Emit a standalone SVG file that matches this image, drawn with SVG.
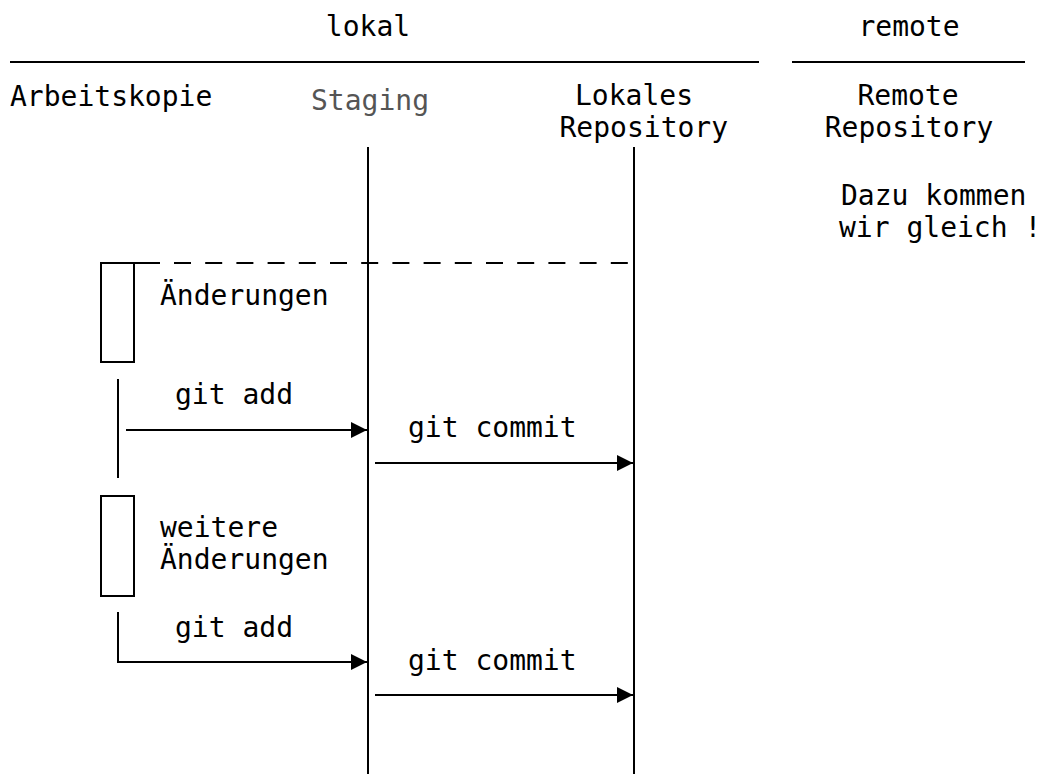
<svg xmlns="http://www.w3.org/2000/svg" width="1041" height="774" viewBox="0 0 1041 774">
  <style>
    text { font-family: "DejaVu Sans Mono", "Liberation Mono", monospace; font-size: 28px; fill: #000; }
    .muted { fill: #555; }
    .mid { text-anchor: middle; }
    .ln { stroke: #000; stroke-width: 2; fill: none; }
    .box { stroke: #000; stroke-width: 2; fill: #fff; }
    .dash { stroke: #000; stroke-width: 2; fill: none; stroke-dasharray: 17 14.2; }
  </style>
  <defs>
    <marker id="arrow" viewBox="0 0 16 16" refX="16" refY="8" markerWidth="16" markerHeight="16" markerUnits="userSpaceOnUse" orient="auto">
      <path d="M0,0 L16,8 L0,16 Z" fill="#000"/>
    </marker>
  </defs>

  <rect width="1041" height="774" fill="#fff"/>

  <!-- section headers -->
  <g id="header-lokal">
    <text class="mid" x="368" y="36">lokal</text>
    <line class="ln" x1="10" y1="62" x2="759" y2="62"/>
  </g>
  <g id="header-remote">
    <text class="mid" x="909" y="36">remote</text>
    <line class="ln" x1="792" y1="62" x2="1025" y2="62"/>
  </g>

  <!-- participants -->
  <g id="arbeitskopie">
    <text x="10" y="106">Arbeitskopie</text>
  </g>
  <g id="staging">
    <text class="mid muted" x="370" y="110">Staging</text>
    <line class="ln" x1="368" y1="147" x2="368" y2="774"/>
  </g>
  <g id="lokales-repository">
    <text x="575" y="105">Lokales</text>
    <text x="559.5" y="137">Repository</text>
    <line class="ln" x1="634" y1="147" x2="634" y2="774"/>
  </g>
  <g id="remote-repository">
    <text class="mid" x="908" y="105">Remote</text>
    <text class="mid" x="909" y="137">Repository</text>
    <text x="841" y="205">Dazu kommen</text>
    <text x="839" y="237">wir gleich !</text>
  </g>

  <!-- first batch of changes -->
  <g id="aenderungen">
    <rect class="box" x="101" y="263" width="33" height="99"/>
    <text x="160" y="305">Änderungen</text>
  </g>

  <!-- second batch of changes -->
  <g id="weitere-aenderungen">
    <rect class="box" x="101" y="496" width="33" height="100"/>
    <text x="160" y="537">weitere</text>
    <text x="160" y="569">Änderungen</text>
  </g>

  <!-- connectors -->
  <g id="connectors">
    <line class="ln" x1="134" y1="263" x2="160" y2="263"/>
    <line class="dash" x1="174" y1="263" x2="628" y2="263"/>

    <line class="ln" x1="118" y1="379" x2="118" y2="478"/>
    <line class="ln" x1="126" y1="430" x2="367" y2="430" marker-end="url(#arrow)"/>
    <text x="175" y="404">git add</text>

    <line class="ln" x1="375" y1="463" x2="633" y2="463" marker-end="url(#arrow)"/>
    <text x="408" y="437">git commit</text>

    <path class="ln" d="M118,612 V662 H367" marker-end="url(#arrow)"/>
    <text x="175" y="637">git add</text>

    <line class="ln" x1="375" y1="695" x2="633" y2="695" marker-end="url(#arrow)"/>
    <text x="408" y="670">git commit</text>
  </g>
</svg>
